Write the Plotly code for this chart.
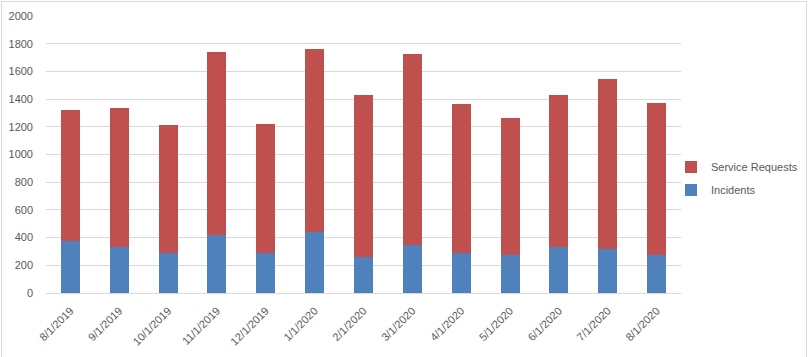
import plotly.graph_objects as go

months = ["8/1/2019", "9/1/2019", "10/1/2019", "11/1/2019", "12/1/2019", "1/1/2020",
          "2/1/2020", "3/1/2020", "4/1/2020", "5/1/2020", "6/1/2020", "7/1/2020", "8/1/2020"]
totals = [1322, 1336, 1213, 1740, 1221, 1762, 1430, 1725, 1365, 1264, 1430, 1545, 1372]
incidents = [372, 329, 286, 420, 286, 444, 257, 348, 286, 276, 334, 315, 271]
service_requests = [t - i for t, i in zip(totals, incidents)]
y_ticks = [0, 200, 400, 600, 800, 1000, 1200, 1400, 1600, 1800, 2000]

W, H = 808, 357
ml, mr, mt, mb = 46, 127, 16, 64
pw = W - ml - mr
ph = H - mt - mb

fig = go.Figure()
fig.add_trace(go.Bar(x=months, y=incidents, name="Incidents", marker_color="#4F81BD",
                     marker_line_width=0, legendgroup="inc", legendrank=2))
fig.add_trace(go.Bar(x=months, y=service_requests, name="Service Requests",
                     marker_color="#C0504D", marker_line_width=0, legendgroup="sr",
                     legendrank=1))

font = dict(family="Liberation Sans, Arial, sans-serif", size=11, color="#595959")

fig.update_layout(
    width=W, height=H,
    margin=dict(l=ml, r=mr, t=mt, b=mb, pad=0, autoexpand=False),
    barmode="stack", bargap=0.61,
    paper_bgcolor="white", plot_bgcolor="white",
    font=font,
    showlegend=True,
    legend=dict(traceorder="grouped", x=(671 - ml) / pw, xanchor="left",
                y=1 - (178.5 - mt) / ph, yanchor="middle", font=font,
                bgcolor="rgba(0,0,0,0)", itemwidth=30, tracegroupgap=4),
    xaxis=dict(type="category", tickangle=-45, showgrid=False, showline=True,
               linecolor="#D9D9D9", linewidth=1, ticks="", tickfont=font,
               ticklabelstandoff=6, automargin=False),
    yaxis=dict(range=[0, 2000], tickvals=y_ticks, showgrid=True, gridcolor="#D9D9D9",
               gridwidth=1, zeroline=False, showline=False, ticks="", tickfont=font,
               ticklabelstandoff=12, automargin=False),
    shapes=[dict(type="rect", xref="paper", yref="paper",
                 x0=(1.5 - ml) / pw, x1=(806.5 - ml) / pw,
                 y0=1 - (362 - mt) / ph, y1=1 + (mt - 1.5) / ph,
                 line=dict(color="#D9D9D9", width=1), layer="below")],
)

fig.write_html("out.html", post_script="document.body.style.margin='0';",
               config={"displayModeBar": False})
